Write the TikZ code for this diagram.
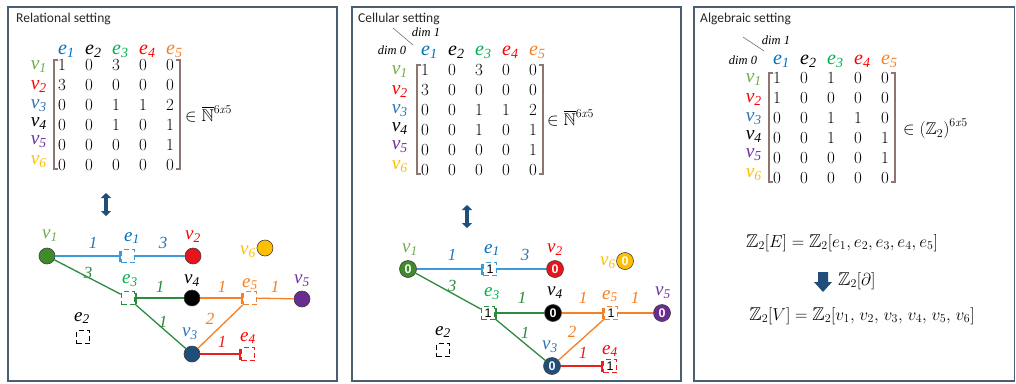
\documentclass[tikz,border=0pt]{standalone}
\usepackage{amssymb}
\usepackage{graphicx}
\usepackage{fontspec}
\newfontfamily\tnr{Liberation Serif}
\newfontfamily\titlefont{Carlito}
\newfontfamily\arialf{Liberation Sans}
\usetikzlibrary{arrows.meta}

\definecolor{cgreen}{HTML}{70AD47}
\definecolor{cgreenB}{HTML}{00B050}
\definecolor{cblue}{HTML}{0070C0}
\definecolor{cblueL}{HTML}{2E75B6}
\definecolor{cred}{HTML}{FF0000}
\definecolor{corange}{HTML}{F58025}
\definecolor{cpurple}{HTML}{7030A0}
\definecolor{cgold}{HTML}{FFC000}
\definecolor{cnavy}{HTML}{1F4E79}
\definecolor{bracket}{HTML}{8E7571}
\definecolor{frame}{HTML}{4A5F73}
\definecolor{eblue}{HTML}{3C9AD8}
\definecolor{egreen}{HTML}{2E8B3E}
\definecolor{ered}{HTML}{E82020}
\definecolor{vgreen}{HTML}{3D8B2A}
\definecolor{vred}{HTML}{E8141B}
\definecolor{vpurple}{HTML}{6B2C91}

\newcommand\isub[2]{#1\textsubscript{#2}}
\newcommand\supx{\raisebox{1.1ex}{\fontsize{12}{12}\selectfont 6\textit{x}5}}

\newcommand\mrow[9]{%
 \node[ent] (#1-#4-1) at (#2,#3) {#5};
 \node[ent] (#1-#4-2) at (#2+27,#3) {#6};
 \node[ent] (#1-#4-3) at (#2+54,#3) {#7};
 \node[ent] (#1-#4-4) at (#2+81,#3) {#8};
 \node[ent] (#1-#4-5) at (#2+108,#3) {#9};
}
\newcommand\mhead[3]{%
 \node[hd,text=cblue] (#1-h1) at (#2-4,#3) {\isub{e}{1}};
 \node[hd] (#1-h2) at (#2+23,#3) {\isub{e}{2}};
 \node[hd,text=cgreenB] (#1-h3) at (#2+50,#3) {\isub{e}{3}};
 \node[hd,text=cred] (#1-h4) at (#2+77,#3) {\isub{e}{4}};
 \node[hd,text=corange] (#1-h5) at (#2+104,#3) {\isub{e}{5}};
}
\newcommand\mlabels[3]{%
 \node[rl,text=cgreen] (#1-v1) at (#2,#3+4) {\isub{v}{1}};
 \node[rl,text=cred] (#1-v2) at (#2,#3+24) {\isub{v}{2}};
 \node[rl,text=cblueL] (#1-v3) at (#2,#3+43) {\isub{v}{3}};
 \node[rl] (#1-v4) at (#2,#3+61) {\isub{v}{4}};
 \node[rl,text=cpurple] (#1-v5) at (#2,#3+79) {\isub{v}{5}};
 \node[rl,text=cgold] (#1-v6) at (#2,#3+99) {\isub{v}{6}};
}
\newcommand\mbrackets[2]{%
 \draw[brk] (#1-4,#2-5) -- (#1-8,#2-5) -- (#1-8,#2+104) -- (#1-4,#2+104);
 \draw[brk] (#1+114,#2-5) -- (#1+118,#2-5) -- (#1+118,#2+104) -- (#1+114,#2+104);
}

\tikzset{
 panel/.style={draw=frame, line width=1.6pt},
 ttl/.style={font=\titlefont\fontsize{13.5}{13.5}\selectfont, anchor=west, inner sep=0, text=black!85},
 ent/.style={font=\fontsize{17}{17}\selectfont, inner sep=0},
 hd/.style={font=\tnr\itshape\fontsize{20}{20}\selectfont, inner sep=0, anchor=base west},
 rl/.style={font=\tnr\itshape\fontsize{19.5}{19.5}\selectfont, inner sep=0, anchor=base east},
 brk/.style={draw=bracket, line width=1.3pt},
 setx/.style={font=\fontsize{17}{17}\selectfont, inner sep=0, anchor=west},
 dimlab/.style={font=\tnr\itshape\fontsize{12.5}{12.5}\selectfont, inner sep=0},
 dimline/.style={draw=black!55, line width=0.6pt},
 vert/.style={circle, draw=black!75, line width=0.6pt, minimum size=16pt, inner sep=0},
 cell/.style={circle, draw=black!75, line width=0.6pt, minimum size=17pt, inner sep=0, font=\arialf\bfseries\fontsize{12.5}{12.5}\selectfont, text=white},
 ebox/.style={draw, dash pattern=on 5pt off 3pt, line width=1.5pt, minimum size=13pt, inner sep=0, text=black, font=\arialf\fontsize{12.5}{12.5}\selectfont},
 glab/.style={font=\tnr\itshape\fontsize{19}{19}\selectfont, inner sep=0},
 wlab/.style={font=\tnr\itshape\fontsize{17}{17}\selectfont, inner sep=0},
 edge/.style={line width=1.3pt},
 bar/.style={-{Bar[width=11pt,line width=1.3pt]}},
 darr/.style={draw=cnavy, line width=3.5pt, {Triangle[width=10pt,length=5pt]}-{Triangle[width=10pt,length=5pt]}},
 fm/.style={font=\fontsize{18.5}{18.5}\selectfont, inner sep=0},
}

\begin{document}
\begin{tikzpicture}[x=1pt,y=-1pt]
\useasboundingbox (0,0) rectangle (1016,383);
\fill[white] (0,0) rectangle (1016,383);
\draw[panel] (8,7) rectangle (337,381);
\draw[panel] (352,7) rectangle (681,381);
\draw[panel] (694,7) rectangle (1014.5,381);

% titles
\node[ttl] (t1) at (16,19) {Relational setting};
\node[ttl] (t2) at (358,19) {Cellular setting};
\node[ttl] (t3) at (700,19) {Algebraic setting};

% ---------- panel 1 matrix
\mhead{a}{62}{54}
\mrow{a}{62}{65}{1}{1}{0}{3}{0}{0}
\mrow{a}{62}{85}{2}{3}{0}{0}{0}{0}
\mrow{a}{62}{105}{3}{0}{0}{1}{1}{2}
\mrow{a}{62}{125}{4}{0}{0}{1}{0}{1}
\mrow{a}{62}{145}{5}{0}{0}{0}{0}{1}
\mrow{a}{62}{165}{6}{0}{0}{0}{0}{0}
\mlabels{a}{47}{65}
\mbrackets{62}{65}
\node[setx] (a-set) at (185,114) {$\in\overline{\mathbb{N}}$\supx};

% ---------- panel 2 matrix
\coordinate (b-d1) at (393,28); \coordinate (b-d2) at (413,45);
\draw[dimline] (b-d1) -- (b-d2);
\node[dimlab] (b-dim1) at (426,32) {dim 1};
\node[dimlab] (b-dim0) at (392,50) {dim 0};
\mhead{b}{425}{55}
\mrow{b}{425}{70}{1}{1}{0}{3}{0}{0}
\mrow{b}{425}{90}{2}{3}{0}{0}{0}{0}
\mrow{b}{425}{110}{3}{0}{0}{1}{1}{2}
\mrow{b}{425}{130}{4}{0}{0}{1}{0}{1}
\mrow{b}{425}{150}{5}{0}{0}{0}{0}{1}
\mrow{b}{425}{170}{6}{0}{0}{0}{0}{0}
\mlabels{b}{408}{70}
\mbrackets{425}{70}
\node[setx] (b-set) at (547,118) {$\in\overline{\mathbb{N}}$\supx};

% ---------- panel 3 matrix
\coordinate (c-d1) at (743,37); \coordinate (c-d2) at (764,51);
\draw[dimline] (c-d1) -- (c-d2);
\node[dimlab] (c-dim1) at (776,40) {dim 1};
\node[dimlab] (c-dim0) at (743,60) {dim 0};
\mhead{c}{777}{64}
\mrow{c}{777}{78}{1}{1}{0}{1}{0}{0}
\mrow{c}{777}{98}{2}{1}{0}{0}{0}{0}
\mrow{c}{777}{118}{3}{0}{0}{1}{1}{0}
\mrow{c}{777}{138}{4}{0}{0}{1}{0}{1}
\mrow{c}{777}{158}{5}{0}{0}{0}{0}{1}
\mrow{c}{777}{178}{6}{0}{0}{0}{0}{0}
\mlabels{c}{762}{78}
\mbrackets{777}{78}
\node[setx] (c-set) at (903,129) {$\in(\mathbb{Z}_2)$\supx};

% ---------- double arrows
\coordinate (a-up) at (106,193); \coordinate (a-dn) at (106,216);
\draw[darr] (a-up) -- (a-dn);
\coordinate (b-up) at (467,205); \coordinate (b-dn) at (467,228);
\draw[darr] (b-up) -- (b-dn);

% ---------- panel 1 graph
\node[vert, fill=vgreen] (a-n1) at (47,256) {};
\node[ebox, draw=eblue] (a-e1) at (128,256) {};
\node[vert, fill=vred] (a-n2) at (193,256) {};
\node[vert, fill=cgold] (a-n6) at (265,248) {};
\node[ebox, draw=egreen] (a-e3) at (128,298) {};
\node[vert, fill=black] (a-n4) at (192,298) {};
\node[ebox, draw=corange] (a-e5) at (250,298) {};
\node[vert, fill=vpurple] (a-n5) at (302,299) {};
\node[vert, fill=cnavy] (a-n3) at (192,354) {};
\node[ebox, draw=ered] (a-e4) at (248,354) {};
\node[ebox, draw=black] (a-e2) at (83,337) {};

\draw[edge, eblue, bar] (a-n1) -- (a-e1);
\draw[edge, eblue] (a-n2) -- (a-e1);
\draw[edge, egreen] (a-n1) -- (a-e3);
\draw[edge, egreen, bar] (a-n4) -- (a-e3);
\draw[edge, egreen] (a-e3) -- (a-n3);
\draw[edge, corange, bar] (a-n4) -- (a-e5);
\draw[edge, corange] (a-e5) -- (a-n5);
\draw[edge, corange] (a-n3) -- (a-e5);
\draw[edge, ered, bar] (a-n3) -- (a-e4);

\node[glab, text=cgreen] (a-l1) at (50,236) {\isub{v}{1}};
\node[glab, text=cblue] (a-le1) at (132,238) {\isub{e}{1}};
\node[glab, text=cred] (a-l2) at (193,237) {\isub{v}{2}};
\node[glab, text=cgold] (a-l6) at (248,252) {\isub{v}{6}};
\node[glab, text=cgreenB] (a-le3) at (130,281) {\isub{e}{3}};
\node[glab] (a-l4) at (192,281) {\isub{v}{4}};
\node[glab, text=corange] (a-le5) at (250,284) {\isub{e}{5}};
\node[glab, text=cpurple] (a-l5) at (302,281) {\isub{v}{5}};
\node[glab, text=cblueL] (a-l3) at (190,334) {\isub{v}{3}};
\node[glab, text=cred] (a-le4) at (248,338) {\isub{e}{4}};
\node[glab] (a-le2) at (82,318) {\isub{e}{2}};

\node[wlab, text=cblueL] (a-w1) at (93,243) {1};
\node[wlab, text=cblueL] (a-w2) at (163,243) {3};
\node[wlab, text=egreen] (a-w3) at (88,273) {3};
\node[wlab, text=egreen] (a-w4) at (160,287) {1};
\node[wlab, text=egreen] (a-w5) at (163,322) {1};
\node[wlab, text=corange] (a-w6) at (222,287) {1};
\node[wlab, text=corange] (a-w7) at (275,287) {1};
\node[wlab, text=corange] (a-w8) at (210,319) {2};
\node[wlab, text=ered] (a-w9) at (222,342) {1};

% ---------- panel 2 graph
\node[cell, fill=vgreen] (b-n1) at (408,269) {0};
\node[ebox, draw=eblue] (b-e1) at (490,269) {1};
\node[cell, fill=vred] (b-n2) at (555,269) {0};
\node[cell, fill=cgold] (b-n6) at (625,261) {0};
\node[ebox, draw=egreen] (b-e3) at (488,313) {1};
\node[cell, fill=black] (b-n4) at (553,313) {0};
\node[ebox, draw=corange] (b-e5) at (611,313) {1};
\node[cell, fill=vpurple] (b-n5) at (662,313) {0};
\node[cell, fill=cnavy] (b-n3) at (552,366) {0};
\node[ebox, draw=ered] (b-e4) at (610,366) {1};
\node[ebox, draw=black] (b-e2) at (443,350) {};

\draw[edge, eblue, bar] (b-n1) -- (b-e1);
\draw[edge, eblue] (b-n2) -- (b-e1);
\draw[edge, egreen] (b-n1) -- (b-e3);
\draw[edge, egreen, bar] (b-n4) -- (b-e3);
\draw[edge, egreen] (b-e3) -- (b-n3);
\draw[edge, corange, bar] (b-n4) -- (b-e5);
\draw[edge, corange] (b-e5) -- (b-n5);
\draw[edge, corange] (b-n3) -- (b-e5);
\draw[edge, ered, bar] (b-n3) -- (b-e4);

\node[glab, text=cgreen] (b-l1) at (410,250) {\isub{v}{1}};
\node[glab, text=cblue] (b-le1) at (492,250) {\isub{e}{1}};
\node[glab, text=cred] (b-l2) at (555,250) {\isub{v}{2}};
\node[glab, text=cgold] (b-l6) at (608,263) {\isub{v}{6}};
\node[glab, text=cgreenB] (b-le3) at (492,294) {\isub{e}{3}};
\node[glab] (b-l4) at (555,293) {\isub{v}{4}};
\node[glab, text=corange] (b-le5) at (610,296) {\isub{e}{5}};
\node[glab, text=cpurple] (b-l5) at (663,293) {\isub{v}{5}};
\node[glab, text=cblueL] (b-l3) at (550,347) {\isub{v}{3}};
\node[glab, text=cred] (b-le4) at (610,351) {\isub{e}{4}};
\node[glab] (b-le2) at (443,332) {\isub{e}{2}};

\node[wlab, text=cblueL] (b-w1) at (452,255) {1};
\node[wlab, text=cblueL] (b-w2) at (525,255) {3};
\node[wlab, text=egreen] (b-w3) at (452,286) {3};
\node[wlab, text=egreen] (b-w4) at (522,298) {1};
\node[wlab, text=egreen] (b-w5) at (525,333) {1};
\node[wlab, text=corange] (b-w6) at (583,298) {1};
\node[wlab, text=corange] (b-w7) at (635,298) {1};
\node[wlab, text=corange] (b-w8) at (572,332) {2};
\node[wlab, text=ered] (b-w9) at (583,353) {1};

% ---------- panel 3 formulas
\node[fm] (z-E) at (842,243) {$\mathbb{Z}_2[E]=\mathbb{Z}_2[e_1,e_2,e_3,e_4,e_5]$};
\node[fm, anchor=west] (z-d) at (838,281) {$\mathbb{Z}_2[\partial]$};
\node[fm] (z-V) at (862,316) {$\mathbb{Z}_2[V]=\mathbb{Z}_2[v_1,\mkern2mu v_2,\mkern2mu v_3,\mkern2mu v_4,\mkern2mu v_5,\mkern2mu v_6]$};
\fill[cnavy] (818,272) -- (828,272) -- (828,282) -- (832,282) -- (823,292) -- (814,282) -- (818,282) -- cycle;
\end{tikzpicture}
\end{document}
